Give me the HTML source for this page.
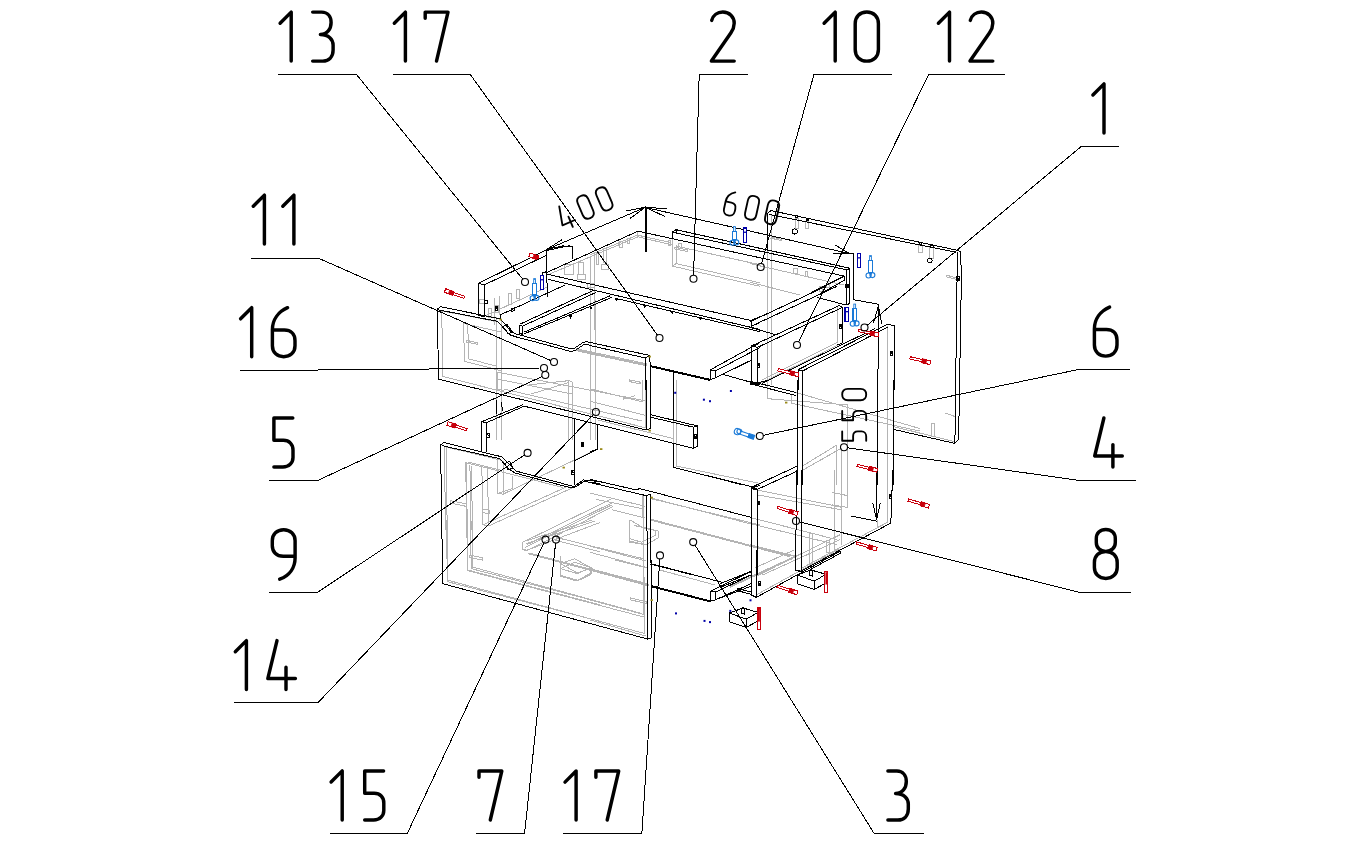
<!DOCTYPE html>
<html><head><meta charset="utf-8"><title>Exploded view</title>
<style>
html,body{margin:0;padding:0;background:#fff;font-family:"Liberation Sans",sans-serif;}
svg{display:block}
</style></head><body>
<svg width="1369" height="842" viewBox="0 0 1369 842">
<rect width="1369" height="842" fill="#fff"/>
<path d="M590.0,254.9 L637.4,235.1 L669.8,242.4 M637.4,231.8 L637.4,237.4 M672.3,239.3 L672.3,266.1 L760.0,286.3 M676.1,244.9 L676.1,263.6 L760.0,282.9 M676.1,246.1 L760.0,264.8 M672.3,266.1 L676.1,263.6 M767.5,250.0 L767.5,399.0 M771.2,214.0 L771.2,385.0 M750.0,263.6 L843.5,285.0 M750.0,282.3 L799.9,295.0 M770.0,238.0 L781.2,240.5 L781.2,239.3 L770.6,236.8 M893.2,426.5 L954.0,441.5 M945.0,413.0 L955.0,416.5 M931.5,423.0 L934.5,423.0 L934.5,436.0 L931.5,436.0 Z M887.8,326.2 L887.8,390.0 M757.5,384.8 L842.3,343.0 M837.3,307.4 L837.3,342.4 L762.5,379.8 M444.3,447.4 L445.6,530.0 M466.2,463.7 L467.4,530.0 M469.9,464.9 L471.2,530.0 M466.2,463.7 L469.9,462.4 L499.8,469.9 M481.8,466.2 L483.0,524.8 L488.6,526.0 L487.4,467.4 M497.3,459.9 L497.3,493.0 L503.0,494.2 L503.0,461.2 M503.0,494.2 L597.1,449.3 M483.0,524.8 L570.9,484.9 M488.6,526.0 L573.4,487.4 M676.7,380.0 L676.7,466.1 L760.0,483.5 M673.6,419.9 L673.6,443.6 M597.5,419.9 L673.6,438.6 M590.0,388.7 L642.4,401.8 L642.4,380.0 M590.0,401.2 L646.1,415.5 M887.8,380.0 L887.8,485.0 M767.5,380.0 L767.5,398.7 L847.3,404.9 L847.3,485.0 M802.4,466.1 L836.1,445.5 L836.1,485.0 M802.4,470.4 L841.7,448.0 L841.7,485.0 M791.2,393.7 L791.2,403.1 L920.0,431.1 M796.1,392.5 L920.0,428.6 M446.2,520.0 L447.5,581.7 L600.0,621.3 M466.8,520.0 L467.4,569.9 L600.0,604.8 M470.5,520.0 L471.2,568.6 L600.0,602.3 M522.9,541.8 L592.1,520.0 M522.9,541.8 L522.9,549.3 L526.0,550.6 L600.0,522.5 M526.0,543.7 L594.6,521.2 M528.5,553.1 L600.0,571.8 M560.3,556.8 L560.3,576.1 L577.2,581.1 L590.9,574.3 L590.9,567.4 M560.3,568.6 L574.7,562.4 L590.9,567.4 L577.2,573.6 L560.3,568.6 M554.7,540.0 L600.0,551.8 M651.1,519.9 L760.0,548.6 M651.1,498.7 L760.0,524.9 M590.0,493.1 L644.9,506.2 M612.4,509.9 L644.9,518.0 M590.0,546.1 L646.1,561.0 M590.0,552.3 L646.1,567.3 M643.0,494.9 L643.6,575.0 M629.9,519.9 L629.9,541.1 L646.1,544.8 L658.0,538.0 L658.0,531.1 L643.6,528.0 L629.9,519.9 M590.0,568.7 L647.4,583.7 M614.9,560.0 L647.4,568.1 M590.0,599.9 L644.9,614.9 M590.0,619.9 L646.1,636.1 M643.0,560.0 L643.6,614.9 M659.8,570.0 L714.7,584.9 M756.2,594.9 L839.7,549.0 M887.2,470.0 L887.2,522.4 L877.2,528.0 L877.2,519.9 M834.8,470.0 L834.8,549.8 M841.7,470.0 L841.7,544.8 M847.3,470.0 L847.3,507.4 L832.3,504.9 M832.3,492.4 L847.3,495.6 M757.5,490.0 L842.3,507.4 M757.5,494.9 L842.3,509.9 M750.0,517.4 L837.3,539.8 M750.0,523.6 L837.3,544.8 M750.0,544.8 L794.9,556.1 M757.5,575.0 L839.8,534.9 M762.5,575.0 L839.8,539.8 M801.1,568.5 L887.2,522.4 M497.2,321.8 L441.8,310.9 L442.6,376.4 L645.1,427.7 L645.6,358.0 M500.6,331.9 L463.6,323.5 L464.4,361.3 L500.6,370.6 M467.8,325.2 L468.6,358.8 L497.2,366.4 M466.1,340.3 L477.9,342.8 L477.9,344.5 L466.1,342.0 Z M496.4,316.8 L496.4,440.0 M501.4,318.5 L501.4,440.0 M590.5,300.0 L590.5,440.0 M595.5,300.0 L595.5,440.0 M568.6,380.6 L568.6,440.0 M572.8,381.5 L572.8,440.0 M576.2,348.7 L646.7,363.8 M576.2,349.7 L646.7,364.9 M576.2,350.7 L646.7,365.9 M497.2,372.2 L645.1,400.8 M497.2,379.0 L572.8,394.1 M503.9,389.0 L641.7,421.0 M497.2,372.2 L497.2,389.0 L503.9,390.7 M529.1,384.8 L569.4,380.6 L572.8,382.3 M530.8,394.1 L569.4,382.3 M629.1,379.8 L640.9,382.3 L640.9,384.0 L629.1,381.5 Z M623.2,399.1 L635.0,395.8 M501.3,460.2 L446.2,447.1 L447.8,580.2 L645.0,633.6 L642.6,494.6 M563.0,487.5 L465.6,462.6 L468.0,570.7 L643.8,617.0 M471.6,466.1 L472.8,567.1 L641.5,613.4 M497.7,459.0 L497.7,493.5 L512.0,488.7 L512.0,475.6 M522.7,542.2 L610.6,499.4 M522.7,542.2 L522.7,549.3 L527.4,550.5 L612.9,506.5 M527.4,544.5 L611.8,503.0 M525.0,547.4 L612.5,504.6 M528.6,552.9 L648.6,584.9 M528.6,553.8 L648.6,585.9 M555.9,537.4 L643.8,558.8 M560.7,556.4 L560.7,575.4 L577.3,580.2 L591.6,573.0 L591.6,568.3 M560.7,563.5 L574.9,558.8 L591.6,568.3 L577.3,573.0 L560.7,563.5 M629.6,520.8 L629.6,542.2 L643.8,544.5 M634.3,525.5 L655.7,530.3 L655.7,535.0 L641.5,542.2 L629.6,538.6 M596.3,499.4 L643.8,508.9 M450.2,500.6 L466.8,504.1 L466.8,506.5 L450.2,503.0 Z M469.2,555.2 L482.3,557.6 L482.3,560.0 L469.2,557.6 Z M482.3,508.9 L489.4,510.1 L489.4,513.7 L482.3,512.5 Z M630.8,598.0 L646.2,601.6 L646.2,603.5 L630.8,599.9 Z M547.5,274.9 L637.9,236.8 L672.2,245.0 M619.8,241.8 L622.3,241.8 L622.3,247.4 L619.8,247.4 Z M627.3,238.7 L629.2,238.7 L629.2,243.1 L627.3,243.1 Z M603.0,248.7 L606.1,248.7 L606.1,262.4 L603.0,262.4 Z M596.1,252.4 L598.6,252.4 L598.6,264.9 L596.1,264.9 Z M578.7,262.4 L583.0,262.4 L583.0,274.9 L578.7,274.9 Z M564.9,264.3 L573.7,264.3 L573.7,274.9 L564.9,274.9 Z M668.5,240.6 L670.7,240.6 L670.7,245.6 L668.5,245.6 Z M678.4,243.7 L681.6,243.7 L681.6,248.1 L678.4,248.1 Z M577.4,274.3 L585.5,274.3 L585.5,279.3 L577.4,279.3 Z M601.7,264.3 L608.0,264.3 L608.0,269.9 L601.7,269.9 Z M674.7,247.4 L687.2,249.9 L687.2,251.4 L674.7,248.9 Z M590.5,257.4 L590.5,330.0 M594.9,253.1 L594.9,330.0 M587.4,283.6 L594.9,283.6 L594.9,287.4 L587.4,287.4 Z M484.9,316.1 L546.6,287.4 M494.2,298.0 L494.2,324.8 M499.8,296.1 L499.8,314.8 M488.6,308.6 L491.7,308.6 L491.7,317.9 L488.6,317.9 Z M494.9,305.5 L498.0,305.5 L498.0,312.9 L494.9,312.9 Z M508.6,293.6 L511.7,293.6 L511.7,304.8 L508.6,304.8 Z M516.7,289.3 L519.8,289.3 L519.8,298.6 L516.7,298.6 Z M479.3,299.2 L484.9,299.2 L484.9,303.0 L479.3,303.0 Z M795.5,218.1 L798.6,218.1 L798.6,228.7 L795.5,228.7 Z M805.5,221.2 L808.6,221.2 L808.6,228.0 L805.5,228.0 Z M793.7,268.6 L797.4,268.6 L797.4,273.6 L793.7,273.6 Z M805.5,271.1 L807.6,271.1 L807.6,276.1 L805.5,276.1 Z M819.2,286.7 L822.3,286.7 L822.3,291.0 L819.2,291.0 Z M826.7,283.5 L829.2,283.5 L829.2,287.3 L826.7,287.3 Z M918.5,245.7 L922.3,245.7 L922.3,252.3 L918.5,252.3 Z M929.4,247.6 L933.7,247.6 L933.7,258.0 L929.4,258.0 Z M946.5,275.1 L957.9,278.5 L957.9,279.9 L946.5,276.8 Z M650.0,519.0 L789.7,555.6 M650.0,520.0 L789.7,556.6 M729.8,586.4 L793.0,557.3 M729.8,587.4 L793.0,558.3 M754.7,568.0 L794.6,549.8 M756.4,576.4 L796.3,555.6 M809.6,533.2 L812.9,533.2 L812.9,563.0 L809.6,563.0 Z M826.0,540.0 L829.0,540.0 L829.0,552.0 L826.0,552.0 Z M651.0,498.0 L751.0,524.0" fill="none" stroke="#b4b4b4" stroke-width="1" shape-rendering="crispEdges"/>
<path d="M478.4,283.4 L546.6,249.7 M484.3,284.9 L546.6,255.3 M478.4,283.4 L484.3,284.9 M478.4,283.4 L478.9,315.4 L484.5,316.7 L484.3,284.9 M500.5,314.8 L565.3,284.9 M500.5,314.8 L500.5,320.4 M546.6,249.7 L547.2,296.7 M546.6,250.5 L569.4,245.7 L572.4,246.8 L572.4,259.3 M550.4,248.0 L570.3,246.2 M546.6,271.8 L542.2,272.7 L542.2,275.2 M546.6,272.6 L638.0,231.2 M547.5,274.3 L750.9,320.5 M548.0,279.3 L760.0,329.5 M519.5,324.4 L592.7,290.7 M523.3,325.8 L595.6,292.6 M524.3,332.0 L609.8,295.9 M524.3,333.8 L612.0,297.3 M519.5,325.0 L519.5,333.5 L523.5,334.5 M522.9,326.3 L522.9,334.2 M519.5,325.0 L522.9,326.3 M437.5,340.0 L437.5,308.8 L440.6,306.7 L499.8,318.8 M438.1,309.8 L497.3,321.3 M499.8,318.8 L505.5,324.8 L511.1,331.7 L517.3,334.4 L524.8,336.3 M497.3,321.3 L503.6,327.9 L509.8,334.8 L517.3,337.3 L524.8,339.1 M502.7,327.0 L507.0,324.3 L512.6,332.0 L508.3,333.8 Z M524.8,336.3 L571.3,349.0 L574.0,348.6 L582.5,342.8 L586.0,341.6 L590.0,342.4 M524.8,339.1 L570.5,351.4 L575.0,350.6 L583.5,344.8 L587.0,344.2 L590.0,345.5 M546.6,249.6 L645.6,207.2 M561.7,239.8 L546.6,249.6 L564.1,245.5 M626.2,211.0 L645.5,207.1 L629.7,218.7 M645.5,207.5 L849.8,253.6 M666.7,208.5 L645.5,207.5 L664.8,216.4 M638.0,231.2 L844.2,276.1 M672.3,238.9 L672.3,232.2 L676.1,229.7 M676.1,229.7 L848.5,268.0 M676.1,229.7 L676.1,233.0 M676.1,233.0 L846.7,269.8 M672.3,232.2 L676.1,233.0 M767.3,250.0 L768.0,213.0 L771.2,210.6 L957.9,250.4 L960.8,251.8 M768.7,214.3 L956.0,252.3 M834.8,244.9 L849.8,253.6 L832.9,253.4 M849.8,253.6 L853.5,253.6 M848.5,267.9 L849.8,269.8 L849.8,295.0 M846.7,269.8 L846.7,295.0 M846.7,269.8 L849.8,269.8 M844.2,276.1 L806.7,295.0 M844.2,276.1 L844.8,280.0 L818.0,295.0 M853.5,253.6 L853.5,295.0 M957.4,252.3 L954.9,443.4 M960.8,251.8 L961.3,282.7 L958.6,439.6 L954.9,443.4 M954.9,443.4 L893.2,429.3 M437.7,330.0 L438.5,379.3 M438.4,379.2 L646.4,430.0 M481.8,435.0 L481.8,421.7 L522.9,404.8 M486.1,435.0 L486.1,422.9 L522.9,406.7 M481.8,421.7 L486.1,422.9 M496.7,399.8 L496.7,413.6 M501.7,402.1 L502.3,411.1 M574.7,419.2 L574.7,435.0 M750.9,320.5 L751.5,326.2 M614.9,298.2 L760.0,331.6 M750.9,320.5 L760.0,316.8 M751.5,326.2 L760.0,322.4 M590.0,342.4 L649.9,355.5 L650.5,390.0 M590.0,345.5 L645.5,358.0 L645.5,390.0 M645.5,358.0 L649.9,355.5 M709.7,379.8 L715.3,377.9 L715.3,371.1 L710.4,369.8 L710.4,379.8 M710.4,369.8 L760.0,342.6 M715.3,371.1 L760.0,347.4 M715.3,377.9 L752.1,359.8 M673.6,371.1 L673.6,390.0 M722.2,374.2 L760.0,384.8 M751.5,346.1 L751.5,383.5 M757.1,347.4 L757.1,384.8 M826.1,286.2 L751.2,321.2 L751.2,326.2 L837.3,286.2 M750.0,327.4 L776.2,334.9 M757.5,384.5 L751.2,383.5 L751.2,346.1 L839.2,305.6 L842.3,307.4 L842.3,343.0 L837.3,344.9 M757.5,384.5 L757.5,347.4 L842.3,307.4 M751.2,346.1 L757.5,347.4 M846.0,285.0 L846.0,305.0 L849.2,303.7 L849.2,285.0 M846.0,305.0 L817.3,297.5 M853.5,285.0 L853.5,299.7 L878.7,304.3 M878.7,304.3 L877.8,390.0 M873.5,323.0 L878.5,305.6 L881.6,323.7 M798.0,390.0 L798.0,369.8 L887.2,324.3 L894.1,325.5 L894.7,390.0 M802.4,390.0 L802.4,371.1 L888.4,326.8 M798.0,369.8 L802.4,371.1 M761.8,383.5 L874.7,328.7 M441.8,530.0 L440.6,445.0 L443.7,442.5 L501.7,456.8 L511.1,466.2 L516.1,471.1 L572.2,486.1 L574.7,486.1 L583.4,479.9 L600.0,481.7 M441.8,445.6 L499.8,458.7 L507.9,468.0 L514.8,473.0 L571.6,488.0 L575.3,487.0 L584.0,481.4 L600.0,483.6 M504.8,463.7 L509.8,461.2 L512.9,468.0 L507.9,469.9 Z M481.4,425.0 L481.4,451.2 M486.1,425.0 L486.1,452.4 M574.7,425.0 L574.7,484.9 M574.7,460.5 L597.1,449.3 L597.1,425.0 M646.1,380.0 L646.4,429.9 L650.5,428.6 L650.5,380.0 M650.5,414.7 L697.3,425.9 L697.3,446.1 L693.3,448.3 L693.3,427.1 L697.3,425.9 M650.5,417.2 L693.3,427.1 M693.3,448.3 L597.5,424.3 L597.5,448.6 L590.0,452.3 M673.6,380.0 L673.6,419.9 M673.6,443.6 L673.6,467.3 L743.4,485.0 M797.4,380.0 L797.4,485.0 M802.4,380.0 L802.4,485.0 M877.5,380.0 L877.5,485.0 M893.2,380.0 L893.2,485.0 M750.0,383.7 L796.1,395.6 M750.0,381.2 L796.1,392.5 M750.0,385.0 L768.7,380.0 M441.8,520.0 L442.5,583.6 M442.5,583.6 L647.4,639.0 M590.0,479.4 L636.8,490.0 L639.3,488.5 L751.5,517.4 M590.0,482.5 L646.1,495.6 L650.5,494.3 M646.7,495.6 L647.4,575.0 M650.5,494.3 L651.1,575.0 M684.2,470.0 L752.1,486.8 M751.5,575.0 L751.5,488.7 L757.1,486.2 L760.0,485.6 M757.1,490.0 L757.1,575.0 M751.5,488.7 L757.1,490.0 M650.5,564.2 L693.5,575.0 M743.4,575.0 L751.5,571.6 M647.4,560.0 L647.4,639.2 L651.4,637.9 L651.1,560.0 M651.1,563.7 L724.1,582.8 M709.7,601.2 L715.3,599.9 L715.3,591.8 L710.4,591.2 L710.4,601.2 M710.4,591.2 L751.5,571.2 M715.3,592.2 L751.5,575.0 M715.3,599.9 L750.9,583.7 M751.5,560.0 L751.5,595.5 L756.5,597.0 L756.5,560.0 M750.9,591.8 L737.2,588.7 M797.3,574.9 L811.0,570.0 L826.0,574.3 L814.2,581.2 Z M797.3,574.9 L797.3,583.7 L814.2,589.3 L826.0,583.1 L826.0,574.3 M814.2,581.2 L814.2,589.3 M809.2,570.6 L809.2,575.6 L812.9,576.2 L812.9,570.6 L811.0,569.3 Z M729.4,613.0 L743.1,608.0 L758.0,612.4 L746.2,619.2 Z M729.4,613.0 L729.4,621.7 L746.2,627.3 L758.0,621.1 L758.0,612.4 M746.2,619.2 L746.2,627.3 M741.2,608.6 L741.2,613.6 L744.9,614.2 L744.9,608.6 L743.1,607.4 Z M751.8,550.0 L751.2,594.9 L756.2,597.4 L756.8,550.0 M756.2,597.4 L840.4,551.2 M795.5,550.0 L795.5,570.6 L801.1,571.5 L801.7,550.0 M720.0,583.7 L751.2,571.2 M720.0,587.4 L751.2,574.9 M720.0,598.0 L751.2,586.2 M735.0,589.9 L750.6,594.3 M751.9,575.0 L751.2,487.5 M757.5,575.0 L757.5,489.3 M751.2,487.5 L797.4,466.0 M757.5,489.3 L797.4,471.0 M751.2,487.5 L757.5,489.3 M796.8,470.0 L795.5,569.8 L801.1,571.3 L801.8,470.0 M801.1,571.0 L890.9,523.0 L891.6,490.6 L892.8,490.0 L892.8,470.0 M810.5,569.4 L840.2,553.4 L840.6,551.0 M876.6,470.0 L876.6,519.9 M872.8,502.7 L876.6,519.9 L880.3,503.1 M876.6,521.1 L851.0,516.1 M569.6,315.9 L571.6,315.9 L570.6,317.7 Z M590.1,307.2 L592.1,307.2 L591.1,308.9 Z M615.7,299.1 L617.7,299.1 L616.7,300.8 Z M643.8,305.3 L645.8,305.3 L644.8,307.1 Z M671.2,311.6 L673.2,311.6 L672.2,313.3 Z M699.3,317.8 L701.3,317.8 L700.3,319.5 Z M484.9,300.5 L487.4,300.5 L487.4,303.6 L484.9,303.6 Z M511.1,308.6 L514.2,308.0 L514.8,310.5 L511.7,311.3 Z M792.2,231.5 L793.0,229.6 L794.9,228.8 L796.8,229.6 L797.6,231.5 L796.8,233.4 L794.9,234.2 L793.0,233.4 Z M927.5,260.4 L928.2,258.7 L929.9,258.0 L931.6,258.7 L932.3,260.4 L931.6,262.1 L929.9,262.8 L928.2,262.1 Z M795.6,215.9 L797.9,215.9 L797.9,217.7 L795.6,217.7 Z M806.2,219.1 L808.5,219.1 L808.5,220.8 L806.2,220.8 Z M919.4,242.8 L921.8,242.8 L921.8,244.9 L919.4,244.9 Z M930.4,245.2 L933.0,245.2 L933.0,247.1 L930.4,247.1 Z M523.5,406.0 L597.5,424.3 M486.8,433.5 L489.2,433.5 L489.2,437.1 L486.8,437.1 Z M487.6,434.3 L488.6,436.3 M571.6,470.4 L574.0,470.4 L574.0,474.0 L571.6,474.0 Z M572.4,471.2 L573.4,473.2 M581.2,442.7 L583.6,442.7 L583.6,446.3 L581.2,446.3 Z M582.0,443.5 L583.0,445.5 M694.2,434.9 L696.6,434.9 L696.6,438.5 L694.2,438.5 Z M695.0,435.7 L696.0,437.7 M839.2,324.4 L841.6,324.4 L841.6,328.0 L839.2,328.0 Z M840.0,325.2 L841.0,327.2 M757.5,363.6 L759.9,363.6 L759.9,367.2 L757.5,367.2 Z M758.3,364.4 L759.3,366.4 M890.4,351.8 L892.8,351.8 L892.8,355.4 L890.4,355.4 Z M891.2,352.6 L892.2,354.6 M889.1,494.4 L891.5,494.4 L891.5,498.0 L889.1,498.0 Z M889.9,495.2 L890.9,497.2 M757.5,501.2 L759.9,501.2 L759.9,504.8 L757.5,504.8 Z M758.3,502.0 L759.3,504.0 M758.1,581.9 L760.5,581.9 L760.5,585.5 L758.1,585.5 Z M758.9,582.7 L759.9,584.7 M845.9,284.2 L848.3,284.2 L848.3,287.8 L845.9,287.8 Z M846.7,285.0 L847.7,287.0 M956.8,276.7 L959.2,276.7 L959.2,280.3 L956.8,280.3 Z M957.6,277.5 L958.6,279.5 M495.3,306.7 L497.7,306.7 L497.7,310.3 L495.3,310.3 Z M496.1,307.5 L497.1,309.5" fill="none" stroke="#000" stroke-width="1" shape-rendering="crispEdges"/>
<path d="M645.5,206.5 L646.4,252.4 M650.5,366.1 L709.7,379.8 M651.4,586.2 L709.7,601.2" fill="none" stroke="#000" stroke-width="2" shape-rendering="crispEdges"/>
<path d="M453.4,292.3 L464.7,296.4 L463.9,298.4 L452.6,294.4 Z" fill="#fff" stroke="#c8000c" stroke-width="1" shape-rendering="crispEdges"/>
<path d="M445.6,288.7 L453.6,291.6 L452.4,295.2 L444.4,292.3 Z" fill="#fff" stroke="#c8000c" stroke-width="1.1" shape-rendering="crispEdges"/>
<path d="M453.6,291.6 L449.7,290.2 L448.4,293.7 L452.4,295.2 Z" fill="#c8000c" stroke="#c8000c" stroke-width="0.8"/>
<path d="M537.9,256.7 L538.9,257.1 L538.1,259.1 L537.1,258.8 Z" fill="#fff" stroke="#c8000c" stroke-width="1" shape-rendering="crispEdges"/>
<path d="M530.2,253.0 L538.1,255.9 L536.8,259.5 L528.8,256.6 Z" fill="#fff" stroke="#c8000c" stroke-width="1.1" shape-rendering="crispEdges"/>
<path d="M538.1,255.9 L534.2,254.5 L532.9,258.1 L536.8,259.5 Z" fill="#c8000c" stroke="#c8000c" stroke-width="0.8"/>
<path d="M455.9,425.1 L467.1,428.8 L466.5,430.8 L455.2,427.2 Z" fill="#fff" stroke="#c8000c" stroke-width="1" shape-rendering="crispEdges"/>
<path d="M448.1,421.7 L456.2,424.3 L455.0,427.9 L446.9,425.3 Z" fill="#fff" stroke="#c8000c" stroke-width="1.1" shape-rendering="crispEdges"/>
<path d="M456.2,424.3 L452.2,423.0 L451.0,426.6 L455.0,427.9 Z" fill="#c8000c" stroke="#c8000c" stroke-width="0.8"/>
<path d="M858.7,329.4 L870.4,332.0 L870.0,334.1 L858.3,331.6 Z" fill="#fff" stroke="#c8000c" stroke-width="1" shape-rendering="crispEdges"/>
<path d="M870.6,331.2 L878.9,333.0 L878.1,336.8 L869.8,334.9 Z" fill="#fff" stroke="#c8000c" stroke-width="1.1" shape-rendering="crispEdges"/>
<path d="M870.6,331.2 L874.7,332.1 L873.9,335.8 L869.8,334.9 Z" fill="#c8000c" stroke="#c8000c" stroke-width="0.8"/>
<path d="M778.3,368.7 L790.6,371.7 L790.1,373.9 L777.7,370.9 Z" fill="#fff" stroke="#c8000c" stroke-width="1" shape-rendering="crispEdges"/>
<path d="M790.8,370.9 L799.0,373.0 L798.2,376.6 L789.9,374.6 Z" fill="#fff" stroke="#c8000c" stroke-width="1.1" shape-rendering="crispEdges"/>
<path d="M790.8,370.9 L794.9,371.9 L794.0,375.6 L789.9,374.6 Z" fill="#c8000c" stroke="#c8000c" stroke-width="0.8"/>
<path d="M910.3,356.7 L922.4,359.7 L921.9,361.8 L909.7,358.9 Z" fill="#fff" stroke="#c8000c" stroke-width="1" shape-rendering="crispEdges"/>
<path d="M922.6,358.9 L930.9,361.0 L929.9,364.6 L921.7,362.6 Z" fill="#fff" stroke="#c8000c" stroke-width="1.1" shape-rendering="crispEdges"/>
<path d="M922.6,358.9 L926.7,359.9 L925.8,363.6 L921.7,362.6 Z" fill="#c8000c" stroke="#c8000c" stroke-width="0.8"/>
<path d="M777.7,506.4 L789.6,510.1 L789.0,512.2 L777.1,508.4 Z" fill="#fff" stroke="#c8000c" stroke-width="1" shape-rendering="crispEdges"/>
<path d="M789.9,509.3 L798.0,511.9 L796.8,515.5 L788.7,513.0 Z" fill="#fff" stroke="#c8000c" stroke-width="1.1" shape-rendering="crispEdges"/>
<path d="M789.9,509.3 L793.9,510.6 L792.7,514.2 L788.7,513.0 Z" fill="#c8000c" stroke="#c8000c" stroke-width="0.8"/>
<path d="M856.9,541.9 L868.8,545.6 L868.2,547.7 L856.3,544.1 Z" fill="#fff" stroke="#c8000c" stroke-width="1" shape-rendering="crispEdges"/>
<path d="M869.0,544.9 L877.2,547.4 L876.0,551.0 L867.9,548.5 Z" fill="#fff" stroke="#c8000c" stroke-width="1.1" shape-rendering="crispEdges"/>
<path d="M869.0,544.9 L873.1,546.1 L871.9,549.7 L867.9,548.5 Z" fill="#c8000c" stroke="#c8000c" stroke-width="0.8"/>
<path d="M908.5,498.9 L921.1,502.7 L920.4,504.8 L907.9,501.1 Z" fill="#fff" stroke="#c8000c" stroke-width="1" shape-rendering="crispEdges"/>
<path d="M921.3,501.9 L929.4,504.4 L928.4,508.0 L920.2,505.6 Z" fill="#fff" stroke="#c8000c" stroke-width="1.1" shape-rendering="crispEdges"/>
<path d="M921.3,501.9 L925.3,503.1 L924.2,506.8 L920.2,505.6 Z" fill="#c8000c" stroke="#c8000c" stroke-width="0.8"/>
<path d="M857.6,464.3 L869.2,467.3 L868.7,469.4 L857.0,466.5 Z" fill="#fff" stroke="#c8000c" stroke-width="1" shape-rendering="crispEdges"/>
<path d="M869.4,466.5 L877.7,468.6 L876.7,472.2 L868.5,470.2 Z" fill="#fff" stroke="#c8000c" stroke-width="1.1" shape-rendering="crispEdges"/>
<path d="M869.4,466.5 L873.5,467.5 L872.6,471.2 L868.5,470.2 Z" fill="#c8000c" stroke="#c8000c" stroke-width="0.8"/>
<path d="M777.8,585.2 L789.6,589.2 L788.9,591.3 L777.0,587.2 Z" fill="#fff" stroke="#c8000c" stroke-width="1" shape-rendering="crispEdges"/>
<path d="M789.9,588.5 L797.9,591.2 L796.7,594.8 L788.6,592.0 Z" fill="#fff" stroke="#c8000c" stroke-width="1.1" shape-rendering="crispEdges"/>
<path d="M789.9,588.5 L793.8,589.8 L792.6,593.4 L788.6,592.0 Z" fill="#c8000c" stroke="#c8000c" stroke-width="0.8"/>
<rect x="824.8" y="571.2" width="3.1" height="21.2" fill="#fff" stroke="#c8000c" stroke-width="1.1" shape-rendering="crispEdges"/>
<rect x="825.4" y="572.2" width="1.9" height="12.3" fill="#c8000c"/>
<rect x="757.4" y="608" width="3.1" height="21.8" fill="#fff" stroke="#c8000c" stroke-width="1.1" shape-rendering="crispEdges"/>
<rect x="758.0" y="609" width="1.9" height="12.6" fill="#c8000c"/>
<rect x="533.7" y="278.6" width="1.8" height="5" fill="#fff" stroke="#1a7ad8" stroke-width="0.9"/>
<rect x="532.9" y="283.2" width="3.5" height="11.8" fill="#fff" stroke="#1a7ad8" stroke-width="1.1" shape-rendering="crispEdges"/>
<circle cx="532.6" cy="298.3" r="2.5" fill="none" stroke="#1a7ad8" stroke-width="1.1"/>
<circle cx="536.5" cy="297.9" r="2.5" fill="none" stroke="#1a7ad8" stroke-width="1.1"/>
<path d="M532.8,295.0 L536.4,295.0 L535.2,299.3 Z" fill="#1a7ad8"/>
<rect x="733.5" y="226.6" width="1.8" height="5" fill="#fff" stroke="#1a7ad8" stroke-width="0.9"/>
<rect x="732.6" y="231.2" width="3.5" height="8.3" fill="#fff" stroke="#1a7ad8" stroke-width="1.1" shape-rendering="crispEdges"/>
<circle cx="732.4" cy="242.8" r="2.5" fill="none" stroke="#1a7ad8" stroke-width="1.1"/>
<circle cx="736.3" cy="242.4" r="2.5" fill="none" stroke="#1a7ad8" stroke-width="1.1"/>
<path d="M732.6,239.5 L736.2,239.5 L735.0,243.8 Z" fill="#1a7ad8"/>
<rect x="869.6" y="255.6" width="1.8" height="5" fill="#fff" stroke="#1a7ad8" stroke-width="0.9"/>
<rect x="868.8" y="260.2" width="3.5" height="12.0" fill="#fff" stroke="#1a7ad8" stroke-width="1.1" shape-rendering="crispEdges"/>
<circle cx="868.5" cy="275.5" r="2.5" fill="none" stroke="#1a7ad8" stroke-width="1.1"/>
<circle cx="872.4" cy="275.1" r="2.5" fill="none" stroke="#1a7ad8" stroke-width="1.1"/>
<path d="M868.7,272.2 L872.3,272.2 L871.1,276.5 Z" fill="#1a7ad8"/>
<rect x="853.8" y="304.1" width="1.8" height="5" fill="#fff" stroke="#1a7ad8" stroke-width="0.9"/>
<rect x="853.0" y="308.7" width="3.5" height="11.8" fill="#fff" stroke="#1a7ad8" stroke-width="1.1" shape-rendering="crispEdges"/>
<circle cx="852.7" cy="323.8" r="2.5" fill="none" stroke="#1a7ad8" stroke-width="1.1"/>
<circle cx="856.6" cy="323.4" r="2.5" fill="none" stroke="#1a7ad8" stroke-width="1.1"/>
<path d="M852.9,320.5 L856.5,320.5 L855.3,324.8 Z" fill="#1a7ad8"/>
<g transform="translate(737.4,431.6) rotate(19)" fill="none" stroke="#1a7ad8" stroke-width="1.1"><circle cx="0" cy="0" r="3.1"/><circle cx="1.8" cy="-0.8" r="2.4"/><rect x="3.5" y="-1.6" width="8.5" height="3.2" fill="#fff"/><rect x="12" y="-2" width="5.5" height="4" fill="#1a7ad8"/></g>
<rect x="540.6" y="275.5" width="3.3" height="14.4" fill="#fff" stroke="#0000a8" stroke-width="1.2" shape-rendering="crispEdges"/>
<rect x="540.6" y="279.1" width="3.3" height="1.3" fill="#0000a8"/>
<rect x="743.4" y="228" width="3.3" height="14.4" fill="#fff" stroke="#0000a8" stroke-width="1.2" shape-rendering="crispEdges"/>
<rect x="743.4" y="231.6" width="3.3" height="1.3" fill="#0000a8"/>
<rect x="857.6" y="253.6" width="2.8" height="13.7" fill="#fff" stroke="#0000a8" stroke-width="1.2" shape-rendering="crispEdges"/>
<rect x="857.6" y="257.2" width="2.8" height="1.3" fill="#0000a8"/>
<rect x="845" y="307.4" width="3.3" height="13.8" fill="#fff" stroke="#0000a8" stroke-width="1.2" shape-rendering="crispEdges"/>
<rect x="845" y="311.0" width="3.3" height="1.3" fill="#0000a8"/>
<rect x="674.2" y="391.8" width="2" height="2" fill="#0000a8"/>
<rect x="702.9" y="398.7" width="2" height="2" fill="#0000a8"/>
<rect x="709.0" y="400.2" width="2" height="2" fill="#0000a8"/>
<rect x="729.9" y="390.0" width="2" height="2" fill="#0000a8"/>
<rect x="675.0" y="612.4" width="2" height="2" fill="#0000a8"/>
<rect x="703.5" y="619.9" width="2" height="2" fill="#0000a8"/>
<rect x="709.0" y="621.1" width="2" height="2" fill="#0000a8"/>
<rect x="729.3" y="609.9" width="2" height="2" fill="#0000a8"/>
<rect x="749.5" y="599.3" width="2" height="2" fill="#0000a8"/>
<rect x="648.5" y="355.7" width="2.4" height="1.8" fill="#9a8a1a"/>
<rect x="648.5" y="429.7" width="2.4" height="1.8" fill="#9a8a1a"/>
<rect x="650.5" y="496.7" width="2.4" height="1.8" fill="#9a8a1a"/>
<rect x="650.5" y="599.2" width="2.4" height="1.8" fill="#9a8a1a"/>
<rect x="499.5" y="318.7" width="2.4" height="1.8" fill="#9a8a1a"/>
<rect x="785.0" y="401.7" width="2.4" height="1.8" fill="#9a8a1a"/>
<rect x="600.0" y="448.2" width="2.4" height="1.8" fill="#9a8a1a"/>
<rect x="562.5" y="466.7" width="2.4" height="1.8" fill="#9a8a1a"/>
<g fill="none" stroke="#000" stroke-width="3.8" stroke-linecap="round" stroke-linejoin="round">
<path d="M9.2,0 L0,38 L27.6,38 M18.2,26.6 L18.2,49" transform="translate(564.6,230.3) rotate(-23.3) scale(0.49) translate(0,-49)"/>
<path d="M0,11.6 C0,4.6 4.6,0 11.6,0 C18.6,0 23.2,4.6 23.2,11.6 L23.2,37.4 C23.2,44.4 18.6,49 11.6,49 C4.6,49 0,44.4 0,37.4 Z" transform="translate(585,220.3) rotate(-23.3) scale(0.49) translate(0,-49)"/>
<path d="M0,11.6 C0,4.6 4.6,0 11.6,0 C18.6,0 23.2,4.6 23.2,11.6 L23.2,37.4 C23.2,44.4 18.6,49 11.6,49 C4.6,49 0,44.4 0,37.4 Z" transform="translate(603.7,212.2) rotate(-23.3) scale(0.49) translate(0,-49)"/>
<path d="M15.2,0 C6,4 0,12 0,22 L0,38 C0,45 5,49 11.3,49 C17.6,49 22.6,45 22.6,38 L22.6,33 C22.6,26 18,22.3 12,22.3 L0,22.3" transform="translate(722.8,214.2) rotate(12.5) scale(0.49) translate(0,-49)"/>
<path d="M0,11.6 C0,4.6 4.6,0 11.6,0 C18.6,0 23.2,4.6 23.2,11.6 L23.2,37.4 C23.2,44.4 18.6,49 11.6,49 C4.6,49 0,44.4 0,37.4 Z" transform="translate(743.9,218.3) rotate(12.5) scale(0.49) translate(0,-49)"/>
<path d="M0,11.6 C0,4.6 4.6,0 11.6,0 C18.6,0 23.2,4.6 23.2,11.6 L23.2,37.4 C23.2,44.4 18.6,49 11.6,49 C4.6,49 0,44.4 0,37.4 Z" transform="translate(763.9,222.8) rotate(12.5) scale(0.49) translate(0,-49)"/>
<path d="M18.9,0 L0,0 L0,22.3 L9.5,22.3 C15.5,22.3 19.1,26.5 19.1,32 L19.1,39.5 C19.1,45 15,49 9,49 L0,49" transform="translate(866.2,440.8) rotate(-90) scale(0.49) translate(0,-49)"/>
<path d="M18.9,0 L0,0 L0,22.3 L9.5,22.3 C15.5,22.3 19.1,26.5 19.1,32 L19.1,39.5 C19.1,45 15,49 9,49 L0,49" transform="translate(866.2,420.3) rotate(-90) scale(0.49) translate(0,-49)"/>
<path d="M0,11.6 C0,4.6 4.6,0 11.6,0 C18.6,0 23.2,4.6 23.2,11.6 L23.2,37.4 C23.2,44.4 18.6,49 11.6,49 C4.6,49 0,44.4 0,37.4 Z" transform="translate(866.2,400.3) rotate(-90) scale(0.49) translate(0,-49)"/>
</g>
<g fill="none" stroke="#000" stroke-width="3.45" stroke-linecap="round" stroke-linejoin="round">
<path d="M0,11.1 L11.1,0 L11.1,49" transform="translate(280.10,12.10) scale(1.0)" />
<path d="M0,0 L9,0 C15,0 18.4,4.4 18.4,10.4 C18.4,17 14.5,22.4 7.7,22.4 C16,22.4 20.4,27.4 20.4,33 L20.4,38 C20.4,45 16,49 10,49 L0,49" transform="translate(312.70,12.10) scale(1.0)" />
<path d="M0,11.1 L11.1,0 L11.1,49" transform="translate(394.30,12.10) scale(1.0)" />
<path d="M0,6.2 L0,0 L22.8,0 L11.3,49" transform="translate(425.20,12.10) scale(1.0)" />
<path d="M0.3,8.3 C1.6,3.2 6,0 11.4,0 C18,0 22.8,4.8 22.8,11.2 C22.8,15 21.6,17.8 19.4,21 L0,49 L22.8,49" transform="translate(711.40,12.10) scale(1.0)" />
<path d="M0,11.1 L11.1,0 L11.1,49" transform="translate(824.10,12.10) scale(1.0)" />
<path d="M0,11.6 C0,4.6 4.6,0 11.6,0 C18.6,0 23.2,4.6 23.2,11.6 L23.2,37.4 C23.2,44.4 18.6,49 11.6,49 C4.6,49 0,44.4 0,37.4 Z" transform="translate(855.20,12.10) scale(1.0)" />
<path d="M0,11.1 L11.1,0 L11.1,49" transform="translate(938.40,12.10) scale(1.0)" />
<path d="M0.3,8.3 C1.6,3.2 6,0 11.4,0 C18,0 22.8,4.8 22.8,11.2 C22.8,15 21.6,17.8 19.4,21 L0,49 L22.8,49" transform="translate(970.00,12.10) scale(1.0)" />
<path d="M0,11.1 L11.1,0 L11.1,49" transform="translate(1092.90,83.90) scale(1.0)" />
<path d="M0,11.1 L11.1,0 L11.1,49" transform="translate(253.30,195.10) scale(1.0)" />
<path d="M0,11.1 L11.1,0 L11.1,49" transform="translate(282.80,195.10) scale(1.0)" />
<path d="M0,11.1 L11.1,0 L11.1,49" transform="translate(240.60,307.70) scale(1.0)" />
<path d="M15.2,0 C6,4 0,12 0,22 L0,38 C0,45 5,49 11.3,49 C17.6,49 22.6,45 22.6,38 L22.6,33 C22.6,26 18,22.3 12,22.3 L0,22.3" transform="translate(272.40,307.70) scale(1.0)" />
<path d="M18.9,0 L0,0 L0,22.3 L9.5,22.3 C15.5,22.3 19.1,26.5 19.1,32 L19.1,39.5 C19.1,45 15,49 9,49 L0,49" transform="translate(273.90,418.00) scale(1.0)" />
<path d="M22.8,26.6 L11,26.6 C4,26.6 0,22 0,16 L0,11 C0,4.5 4.5,0 11.4,0 C18,0 22.8,4.5 22.8,11 L22.8,28 C22.8,38 17,46 7.4,49.5" transform="translate(272.30,529.70) scale(1.0)" />
<path d="M0,11.1 L11.1,0 L11.1,49" transform="translate(235.30,640.60) scale(1.0)" />
<path d="M9.2,0 L0,38 L27.6,38 M18.2,26.6 L18.2,49" transform="translate(267.80,640.60) scale(1.0)" />
<path d="M0,11.1 L11.1,0 L11.1,49" transform="translate(331.10,770.90) scale(1.0)" />
<path d="M18.9,0 L0,0 L0,22.3 L9.5,22.3 C15.5,22.3 19.1,26.5 19.1,32 L19.1,39.5 C19.1,45 15,49 9,49 L0,49" transform="translate(364.70,770.90) scale(1.0)" />
<path d="M0,6.2 L0,0 L22.8,0 L11.3,49" transform="translate(479.00,771.00) scale(1.0)" />
<path d="M0,11.1 L11.1,0 L11.1,49" transform="translate(565.00,771.00) scale(1.0)" />
<path d="M0,6.2 L0,0 L22.8,0 L11.3,49" transform="translate(595.90,771.00) scale(1.0)" />
<path d="M0,0 L9,0 C15,0 18.4,4.4 18.4,10.4 C18.4,17 14.5,22.4 7.7,22.4 C16,22.4 20.4,27.4 20.4,33 L20.4,38 C20.4,45 16,49 10,49 L0,49" transform="translate(887.90,771.10) scale(1.0)" />
<path d="M15.2,0 C6,4 0,12 0,22 L0,38 C0,45 5,49 11.3,49 C17.6,49 22.6,45 22.6,38 L22.6,33 C22.6,26 18,22.3 12,22.3 L0,22.3" transform="translate(1094.40,307.10) scale(1.0)" />
<path d="M9.2,0 L0,38 L27.6,38 M18.2,26.6 L18.2,49" transform="translate(1094.70,418.00) scale(1.0)" />
<path d="M11.4,0 C5.5,0 1.9,4 1.9,9 L1.9,13 C1.9,18 5.5,22.1 11.4,22.1 C17.3,22.1 20.9,18 20.9,13 L20.9,9 C20.9,4 17.3,0 11.4,0 Z M11.4,22.1 C4.5,22.1 0,26.5 0,33 L0,38 C0,44.5 4.5,49 11.4,49 C18.3,49 22.8,44.5 22.8,38 L22.8,33 C22.8,26.5 18.3,22.1 11.4,22.1 Z" transform="translate(1094.40,529.40) scale(1.0)" />
</g>
<g fill="none" stroke="#000" stroke-width="1" shape-rendering="crispEdges">
<path d="M278.3,74.4 L356.4,74.4 L522.8,279.3"/>
<path d="M393,74.4 L470.2,74.4 L657.5,335.2"/>
<path d="M747.8,74.4 L699.2,74.4 L693.6,275.2"/>
<path d="M891.7,74.4 L814,74.4 L761.6,263.6"/>
<path d="M1005.3,74.4 L928.7,74.4 L798.5,341.9"/>
<path d="M1118.5,146.2 L1081.5,146.2 L867.2,325.3"/>
<path d="M251.1,258.4 L318.9,258.4 L550.8,360.6"/>
<path d="M240,370 L318,370 L540.5,368.0"/>
<path d="M269.1,480.3 L318,480.3 L542.1,376.5"/>
<path d="M269.1,592 L318,592 L524.7,454.8"/>
<path d="M233.8,702.9 L317.7,702.9 L593.5,414.5"/>
<path d="M330,833.2 L407.4,833.2 L544.0,542.8"/>
<path d="M476.1,833.3 L524.6,833.3 L555.6,543.1"/>
<path d="M563.3,833.3 L641.9,833.3 L659.8,558.9"/>
<path d="M923.9,833.4 L874.1,833.4 L695.0,545.1"/>
<path d="M1130.2,369.4 L1079,369.4 L763.2,435.3"/>
<path d="M1135.7,480.3 L1078.3,480.3 L847.5,447.8"/>
<path d="M1130.5,592.2 L1078.9,592.2 L799.4,521.9"/>
</g>
<g fill="none" stroke="#000" stroke-width="1.1">
<circle cx="525" cy="282" r="3.5"/>
<circle cx="659.5" cy="338" r="3.5"/>
<circle cx="693.5" cy="278.7" r="3.5"/>
<circle cx="760.7" cy="267" r="3.5"/>
<circle cx="797" cy="345" r="3.5"/>
<circle cx="864.5" cy="327.5" r="3.5"/>
<circle cx="554" cy="362" r="3.5"/>
<circle cx="544" cy="368" r="3.5"/>
<circle cx="545.3" cy="375" r="3.5"/>
<circle cx="527.6" cy="452.9" r="3.5"/>
<circle cx="595.9" cy="412" r="3.5"/>
<circle cx="545.5" cy="539.6" r="3.5"/>
<circle cx="556" cy="539.6" r="3.5"/>
<circle cx="660" cy="555.4" r="3.5"/>
<circle cx="693.2" cy="542.1" r="3.5"/>
<circle cx="759.8" cy="436" r="3.5"/>
<circle cx="844" cy="447.3" r="3.5"/>
<circle cx="796" cy="521" r="3.5"/>
</g>
</svg>
</body></html>
